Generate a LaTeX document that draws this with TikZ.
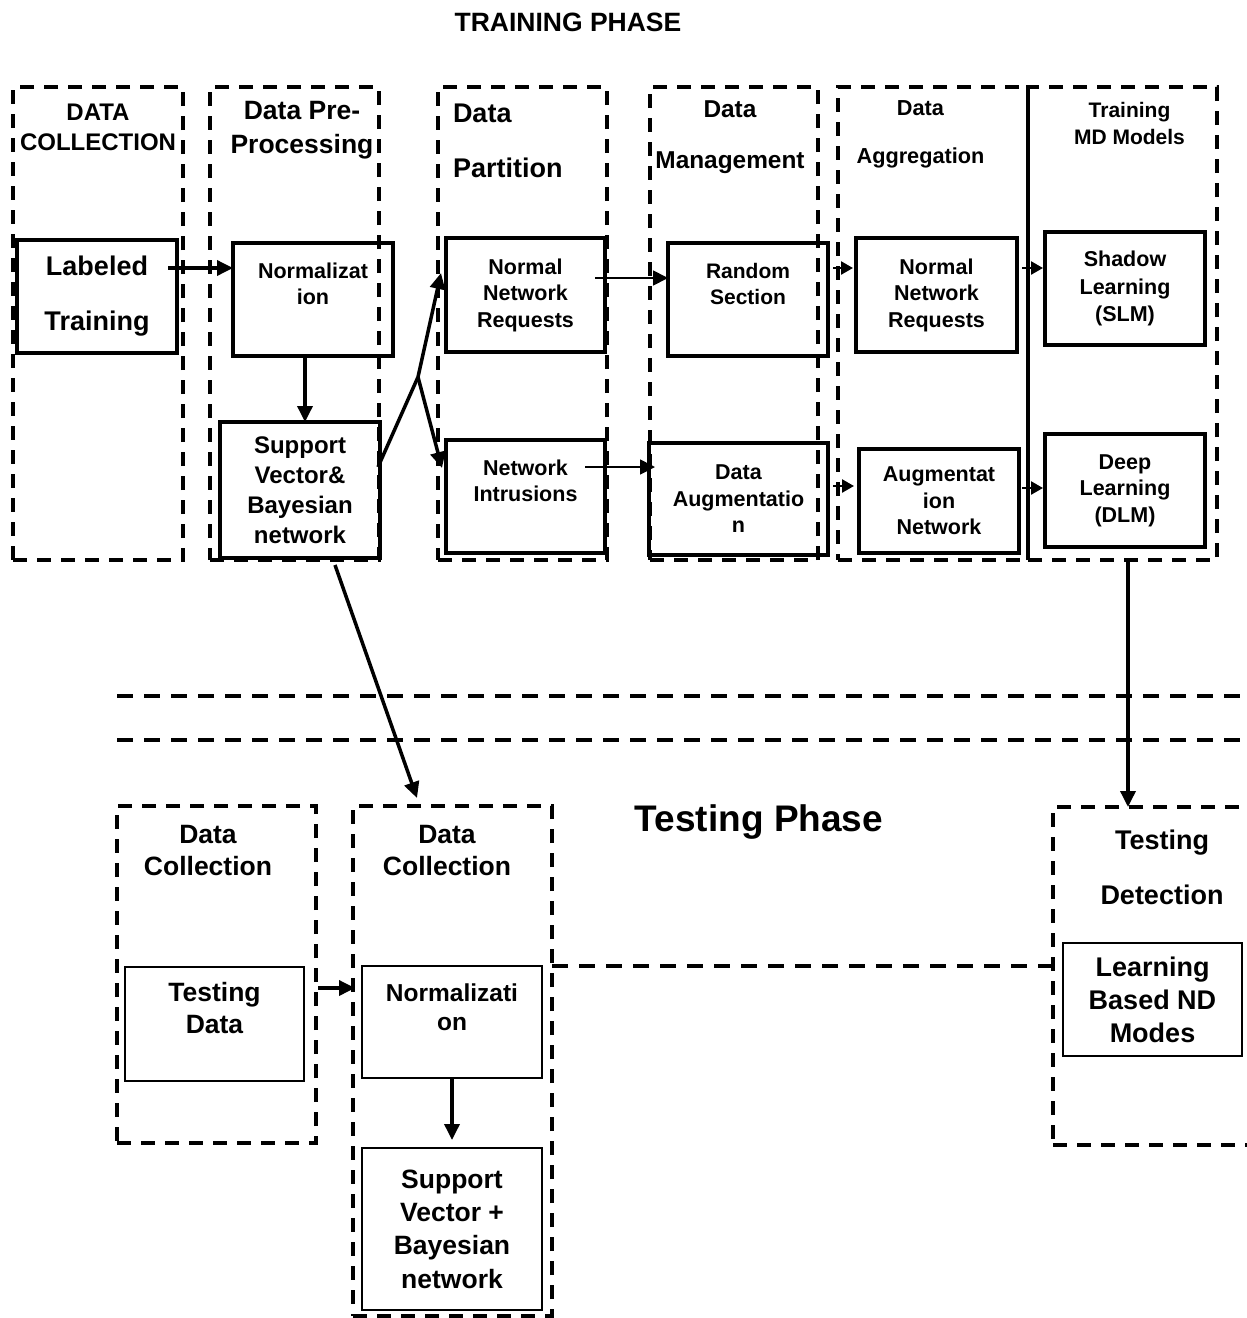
\documentclass[tikz,border=0pt]{standalone}
\usepackage{fontspec}
\setmainfont{Liberation Sans}
\usetikzlibrary{arrows.meta,positioning}
\newcommand{\fsz}[2]{\fontsize{#1}{#2}\selectfont\bfseries}

\begin{document}
\begin{tikzpicture}[x=1pt, y=-1pt, every node/.style={inner sep=0pt, outer sep=0pt, align=center},
  phase/.style={draw, line width=4pt, dash pattern=on 14pt off 10pt},
  box/.style={draw, line width=3.5pt, minimum width=160pt, minimum height=113pt},
  tbox/.style={box, line width=2.5pt},
  divider/.style={line width=4pt, dash pattern=on 16pt off 11pt},
  arr/.style={line width=3.5pt, -{Triangle[length=16pt,width=15pt]}},
  tarr/.style={line width=1.8pt, -{Triangle[length=15pt,width=15pt]}},
  sarr/.style={line width=2.5pt, -{Triangle[length=12pt,width=13pt]}}]
  \useasboundingbox (0,0) rectangle (1247,1318);
  \clip (0,0) rectangle (1247,1318);

  % training phase
  \node[font=\fsz{26.5}{30}] (ttl) at (568,22) {TRAINING PHASE};
  \node[phase, minimum width=170pt, minimum height=473pt] (fdc) at (98,323.5) {};
  \node[phase, minimum width=169pt, minimum height=473pt] (fpre) at (294.5,323.5) {};
  \node[phase, minimum width=169pt, minimum height=473pt] (fpart) at (522.5,323.5) {};
  \node[phase, minimum width=168pt, minimum height=473pt] (fman) at (734,323.5) {};
  \node[phase, minimum width=190pt, minimum height=473pt] (fagg) at (933,323.5) {};
  \node[phase, minimum width=189pt, minimum height=473pt] (ftrn) at (1122.5,323.5) {};
  \draw[line width=3.5pt] (fagg.north east) -- (fagg.south east);

  \node[font=\fsz{24}{30}] (tdc) at (98,127) {DATA\\COLLECTION};
  \node[font=\fsz{26.5}{34}] (tpre) at (302,130) {Data Pre-\\Processing};
  \node[font=\fsz{27}{55}, align=left, anchor=west] (tpart) at (453,140.5) {Data\\Partition};
  \node[font=\fsz{24.4}{51}] (tman) at (730,137.5) {Data\\Management};
  \node[font=\fsz{21.7}{48}] (tagg) at (920.5,134) {Data\\Aggregation};
  \node[font=\fsz{21}{27}] (ttrn) at (1129.5,123.5) {Training\\MD Models};

  \node[box, font=\fsz{27}{55}] (lab) at (97,296.5) {Labeled\\Training};
  \node[box, font=\fsz{21.5}{26}] (pnorm) at (313,299.5) {Normalizat\\ion\\[6pt]\mbox{}};
  \node[box, minimum height=136pt, font=\fsz{24}{30}] (psup) at (300,490) {Support\\Vector\&\\Bayesian\\network};
  \node[box, minimum width=159pt, minimum height=114pt, font=\fsz{21.5}{26.5}] (nreq) at (525.5,295) {Normal\\Network\\Requests};
  \node[box, minimum width=159pt, font=\fsz{21.5}{26}] (intr) at (525.5,496.5) {Network\\Intrusions\\[6pt]\mbox{}};
  \node[box, font=\fsz{21}{26}] (rsec) at (748,299.5) {Random\\Section\\[6pt]\mbox{}};
  \node[box, minimum width=179pt, minimum height=112pt, font=\fsz{21.5}{26.5}] (daug) at (738.5,499) {Data\\Augmentatio\\n};
  \node[box, minimum width=161pt, minimum height=114pt, font=\fsz{21.5}{26.5}] (areq) at (936.5,295) {Normal\\Network\\Requests};
  \node[box, minimum height=104pt, font=\fsz{21.5}{26.5}] (anet) at (939,501) {Augmentat\\ion\\Network};
  \node[box, font=\fsz{21.5}{27.5}] (slm) at (1125,288.5) {Shadow\\Learning\\(SLM)};
  \node[box, font=\fsz{21.5}{26.5}] (dlm) at (1125,490.5) {Deep\\Learning\\(DLM)};

  \draw[arr] ([shift={(-9,-28.5)}]lab.east) -- ([shift={(0,-31.5)}]pnorm.west);
  \draw[arr] ([shift={(-8,0)}]pnorm.south) -- ([shift={(5,0)}]psup.north);
  \coordinate (fork) at (418,377);
  \draw[line width=3.5pt] ([shift={(-2,-23)}]psup.east) -- (fork);
  \draw[arr] (fork) -- ([shift={(-5,-22)}]nreq.west);
  \draw[arr] (fork) -- ([shift={(-4,-28.5)}]intr.west);
  \draw[tarr] ([shift={(-10,-17)}]nreq.east) -- ([shift={(0,-21.5)}]rsec.west);
  \draw[tarr] ([shift={(-20,-29.5)}]intr.east) -- ([shift={(6,-32)}]daug.west);
  \draw[sarr] ([shift={(5,-31.5)}]rsec.east) -- ([shift={(-3,-27)}]areq.west);
  \draw[sarr] ([shift={(5,-13)}]daug.east) -- ([shift={(-5,-15)}]anet.west);
  \draw[sarr] ([shift={(5,-27)}]areq.east) -- ([shift={(-2,-20.5)}]slm.west);
  \draw[sarr] ([shift={(3,-13)}]anet.east) -- ([shift={(-2,-2.5)}]dlm.west);

  % between the phases
  \draw[divider] (117,696) -- (1260,696);
  \draw[divider] (117,740) -- (1260,740);

  % testing phase
  \node[font=\fsz{37}{40}] (tphase) at (759,822) {Testing Phase};
  \node[phase, minimum width=199pt, minimum height=337pt] (ftdc) at (216.5,974.5) {};
  \node[phase, minimum width=199pt, minimum height=510pt] (ftnorm) at (452.5,1061) {};
  \node[phase, minimum width=212pt, minimum height=338pt] (ftdet) at (1159,976) {};
  \node[font=\fsz{26.5}{32}] (ttdc) at (208,851) {Data\\Collection};
  \node[font=\fsz{26.5}{32}] (ttnorm) at (447,851) {Data\\Collection};
  \node[font=\fsz{27}{55}] (ttdet) at (1162,867.5) {Testing\\Detection};

  \node[tbox, minimum width=179pt, minimum height=114pt, font=\fsz{26.5}{32}] (tdata) at (214.5,1024) {Testing\\Data\\\mbox{}};
  \node[tbox, minimum width=180pt, minimum height=112pt, font=\fsz{24.5}{29}] (tnorm) at (452,1022) {Normalizati\\on\\\mbox{}};
  \node[tbox, minimum width=180pt, minimum height=162pt, font=\fsz{26.5}{33.3}] (tsup) at (452,1229) {Support\\Vector +\\Bayesian\\network};
  \node[tbox, minimum width=179pt, font=\fsz{27}{33}] (lbnd) at (1152.5,999.5) {Learning\\Based ND\\Modes};

  \draw[arr] ([shift={(5.5,0)}]ftrn.south) -- ([shift={(-31,0)}]ftdet.north);
  \draw[arr] ([shift={(35,7)}]psup.south) -- ([shift={(-35.5,-8)}]ftnorm.north);
  \draw[arr] ([shift={(2,13.5)}]ftdc.east) -- ([shift={(2,-73)}]ftnorm.west);
  \draw[arr] (tnorm.south) -- ([shift={(0,-8)}]tsup.north);
  \draw[divider] ([shift={(0,-95)}]ftnorm.east) -- ([shift={(0,-10)}]ftdet.west);
\end{tikzpicture}
\end{document}
